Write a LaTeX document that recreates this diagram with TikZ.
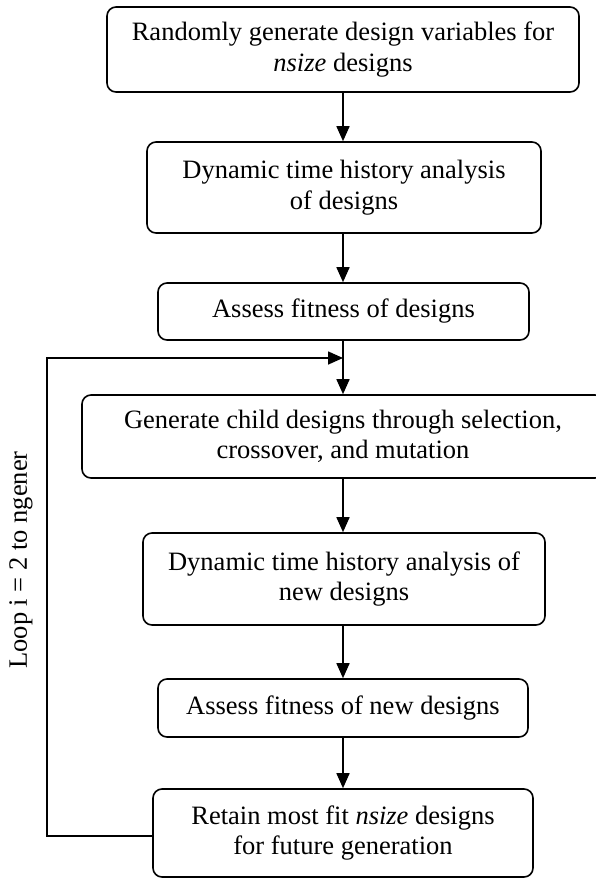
\documentclass[tikz,border=0pt]{standalone}
\usepackage{fontspec}
\setmainfont{Liberation Serif}
\usetikzlibrary{arrows.meta}
\begin{document}
\begin{tikzpicture}[x=1pt,y=1pt,
  txt/.style={font=\fontsize{26.5}{30.5}\selectfont},
  box/.style={txt, draw, line width=1.6pt, rounded corners=9pt, align=center, inner sep=0pt},
  arr/.style={line width=1.6pt, -{Triangle[length=15pt,width=13pt]}},
  conn/.style={line width=1.6pt}]
\useasboundingbox (0,0) rectangle (595,-879);
\node[box, minimum width=472pt, minimum height=85pt] (b1) at (343,-49.5) {Randomly generate design variables for\\\textit{nsize} designs};
\node[box, minimum width=394pt, minimum height=91pt] (b2) at (344,-187.5) {Dynamic time history analysis\\of designs};
\node[box, minimum width=371pt, minimum height=57pt] (b3) at (343.5,-311.5) {Assess fitness of designs};
\node[box, minimum width=522pt, minimum height=83pt] (b4) at (343,-436.5) {Generate child designs through selection,\\crossover, and mutation};
\node[box, minimum width=402pt, minimum height=92pt] (b5) at (344,-579) {Dynamic time history analysis of\\new designs};
\node[box, minimum width=370pt, minimum height=58pt] (b6) at (343,-708) {Assess fitness of new designs};
\node[box, minimum width=380pt, minimum height=88pt] (b7) at (343,-833) {Retain most fit \textit{nsize} designs\\for future generation};
\node[txt, rotate=90, inner sep=0pt] (loop) at (21,-560) {Loop i = 2 to ngener};
\coordinate (lb) at (47,-836);
\coordinate (lt) at (47,-358);
\coordinate (lj) at (343,-358);
\draw[arr] (b1.south -| 343,0) -- (b2.north -| 343,0);
\draw[arr] (b2.south -| 343,0) -- (b3.north -| 343,0);
\draw[arr] (b3.south -| 343,0) -- (b4.north -| 343,0);
\draw[arr] (b4.south -| 343,0) -- (b5.north -| 343,0);
\draw[arr] (b5.south -| 343,0) -- (b6.north -| 343,0);
\draw[arr] (b6.south -| 343,0) -- (b7.north -| 343,0);
\draw[arr] (b7.west |- lb) -- (lb) -- (lt) -- (lj);
\end{tikzpicture}
\end{document}
